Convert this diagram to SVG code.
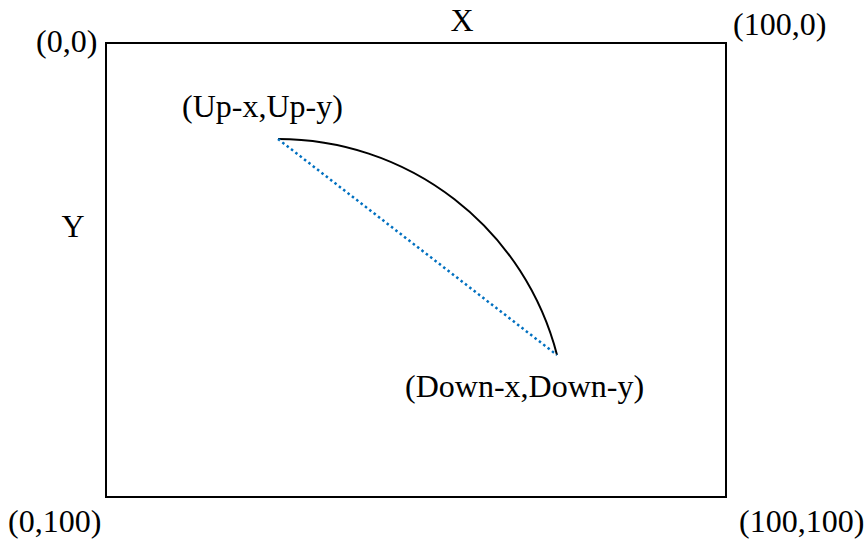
<svg xmlns="http://www.w3.org/2000/svg" width="865" height="542" viewBox="0 0 865 542">
<style>
.t{font-family:"Liberation Serif","Times New Roman",serif;font-size:32px;fill:#000}
.frame{fill:#fff;stroke:#000;stroke-width:2}
.arc{fill:none;stroke:#000;stroke-width:2}
.chord{fill:none;stroke:#0070C0;stroke-width:2.5;stroke-dasharray:2.5 3}
</style>
<rect width="865" height="542" fill="#fff"/>
<g id="frame"><rect class="frame" x="106" y="43" width="620" height="454"/></g>
<g id="labels">
<text class="t" x="36" y="52">(0,0)</text>
<text class="t" x="462" y="31" text-anchor="middle">X</text>
<text class="t" x="733" y="35">(100,0)</text>
<text class="t" x="73" y="237" text-anchor="middle">Y</text>
<text class="t" x="8" y="532">(0,100)</text>
<text class="t" x="739" y="532">(100,100)</text>
</g>
<g id="up"><text class="t" x="182" y="117">(Up-x,Up-y)</text></g>
<g id="down"><text class="t" x="405" y="397">(Down-x,Down-y)</text></g>
<g id="connectors">
<path class="arc" d="M278,139 A288,288 0 0 1 557,355"/>
<line class="chord" x1="278" y1="139" x2="557" y2="355"/>
</g>
</svg>
